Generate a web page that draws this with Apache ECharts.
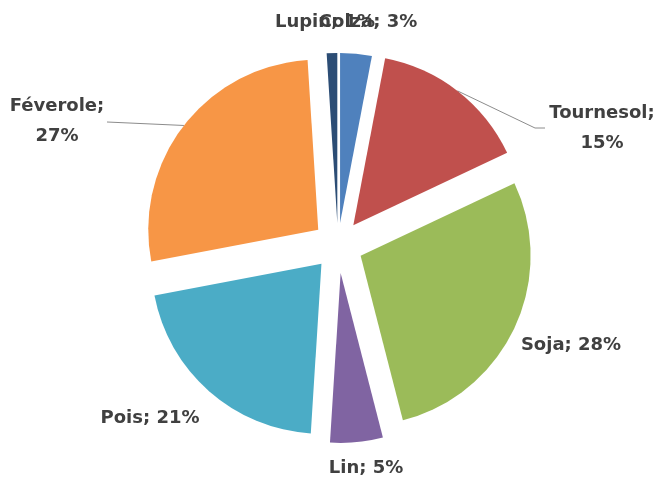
<!DOCTYPE html>
<html>
<head>
<meta charset="utf-8">
<style>
  html, body { margin: 0; padding: 0; background: #fff; }
  #chart { width: 670px; height: 478px; }
</style>
<script src="https://cdn.jsdelivr.net/npm/echarts@6/dist/echarts.min.js"></script>
</head>
<body>
<div id="chart"></div>
<script>
// cultures et part de chacune (%)
const categories = ['Colza', 'Tournesol', 'Soja', 'Lin', 'Pois', 'Féverole', 'Lupin'];
const shares = [3, 15, 28, 5, 21, 27, 1];

// office palette
const colors = ['#4F81BD', '#C0504D', '#9BBB59', '#8064A2', '#4BACC6', '#F79646', '#2C4D75'];
// how far each slice is pulled out of the pie (px)
const explode = [22, 25, 25, 28, 25, 25, 22];

// label centres + leader lines
const labelPos = {
  'Colza': [368, 22],
  'Tournesol': [602, 128],
  'Soja': [571, 345],
  'Lin': [366, 468],
  'Pois': [150, 418],
  'Féverole': [57, 121],
  'Lupin': [325, 22]
};
const labelLineEnd = {
  'Tournesol': [[535, 128], [545, 128]],
  'Féverole': [[107, 122]]
};
const wrapped = ['Tournesol', 'Féverole'];

const chart = echarts.init(document.getElementById('chart'), null, { renderer: 'canvas' });

const total = shares.reduce(function (a, b) { return a + b; }, 0);
const cx = 338, cy = 245, radius = 170;

let cum = 0;
const series = categories.map(function (name, i) {
  // mid angle of the slice, clockwise from the top
  const mid = (cum + shares[i] / 2) / total * 2 * Math.PI;
  cum += shares[i];
  const dx = Math.sin(mid) * explode[i];
  const dy = -Math.cos(mid) * explode[i];
  return {
    type: 'pie',
    name: name,
    center: [cx + dx, cy + dy],
    radius: radius,
    startAngle: 90,
    clockwise: true,
    silent: true,
    animation: false,
    avoidLabelOverlap: false,
    z: name === 'Colza' ? 3 : 2,
    data: categories.map(function (n, j) {
      const own = j === i;
      return {
        name: n,
        value: shares[j],
        itemStyle: { color: own ? colors[j] : 'rgba(0,0,0,0)' },
        label: { show: own },
        labelLine: { show: own && !!labelLineEnd[n] }
      };
    }),
    label: {
      position: 'outside',
      fontFamily: 'DejaVu Sans',
      fontWeight: 'bold',
      fontSize: 18,
      lineHeight: 30,
      color: '#404040',
      formatter: function (p) {
        const sep = wrapped.indexOf(p.name) >= 0 ? ';\n' : '; ';
        return p.name + sep + Math.round(p.percent) + '%';
      }
    },
    labelLine: {
      lineStyle: { color: '#8c8c8c', width: 1 }
    },
    labelLayout: function (p) {
      if (p.dataIndex !== i) return {};
      const pos = labelPos[name];
      const out = { x: pos[0], y: pos[1], align: 'center', verticalAlign: 'middle' };
      if (labelLineEnd[name] && p.labelLinePoints) {
        out.labelLinePoints = [p.labelLinePoints[0]].concat(labelLineEnd[name]);
      }
      return out;
    }
  };
});

chart.setOption({
  backgroundColor: '#fff',
  animation: false,
  series: series
});
</script>
</body>
</html>
